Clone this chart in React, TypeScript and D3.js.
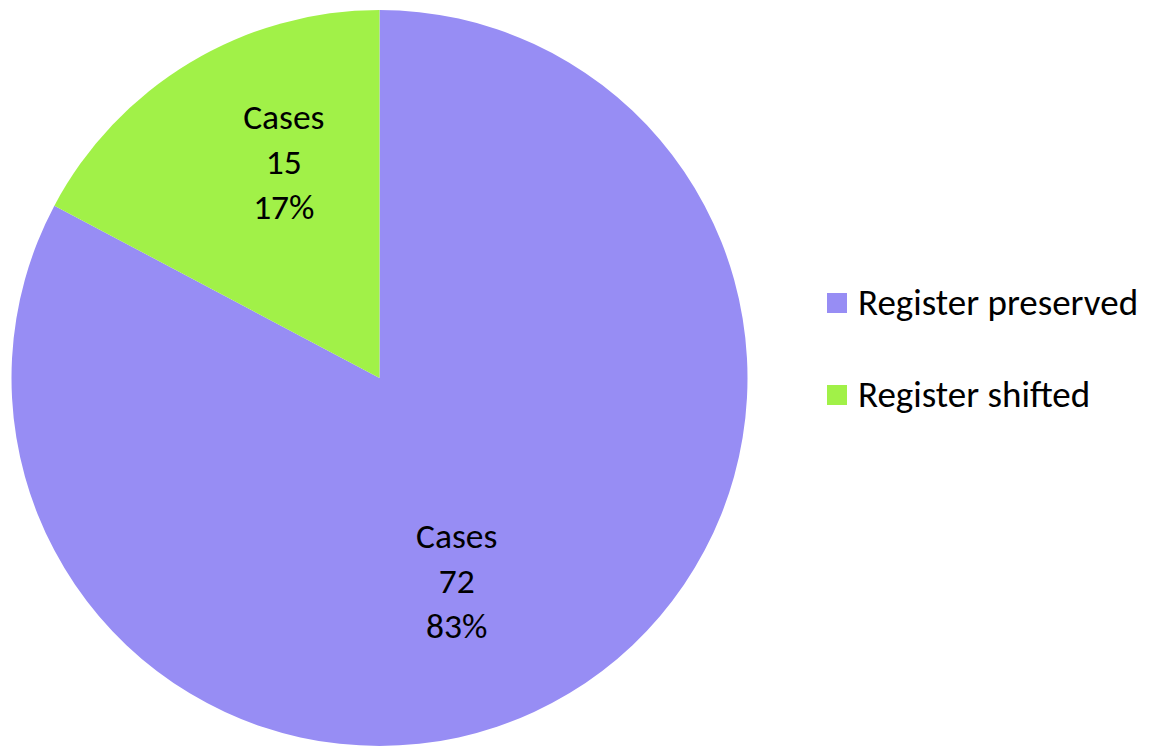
import React from "react";
import * as d3 from "d3";

const categories = ["Register preserved", "Register shifted"];
const values = [72, 15];
const seriesName = "Cases";
const colors = ["#978DF4", "#A1F148"];

const W = 1162, H = 747;
const cx = 379.5, cy = 378, R = 368;
// label placement (angle in degrees clockwise from top, radius fraction) for middle line baseline
const labelPlace = [
  { ang: 160.3, rf: 0.622 },
  { ang: 334.9, rf: 0.613 },
];

export default function App() {
  const total = d3.sum(values);
  const pie = d3.pie<number>().sort(null).value((d) => d)(values);
  const arc = d3.arc<d3.PieArcDatum<number>>().innerRadius(0).outerRadius(R);
  const font = "Carlito, Calibri, 'Open Sans', sans-serif";
  return (
    <svg width={W} height={H} style={{ position: "absolute", left: 0, top: 0, background: "#fff" }}>
      <g transform={`translate(${cx},${cy})`}>
        {pie.map((p, i) => (
          <path key={i} d={arc(p) || ""} fill={colors[i]} />
        ))}
        {pie.map((p, i) => {
          const a = (labelPlace[i].ang * Math.PI) / 180;
          const r = labelPlace[i].rf * R;
          const x = r * Math.sin(a);
          const y = -r * Math.cos(a);
          const pct = Math.round((values[i] / total) * 100) + "%";
          return (
            <text key={i} x={x} y={y} textAnchor="middle" fontFamily={font} fontSize={35.5} fill="#000">
              <tspan x={x} dy={-45}>{seriesName}</tspan>
              <tspan x={x} dy={45}>{values[i]}</tspan>
              <tspan x={x} dy={45}>{pct}</tspan>
            </text>
          );
        })}
      </g>
      {categories.map((c, i) => (
        <g key={c} transform={`translate(827,${293 + i * 92})`}>
          <rect width={20} height={20} fill={colors[i]} />
          <text x={31} y={22} fontFamily={font} fontSize={37} fill="#000">{c}</text>
        </g>
      ))}
    </svg>
  );
}
